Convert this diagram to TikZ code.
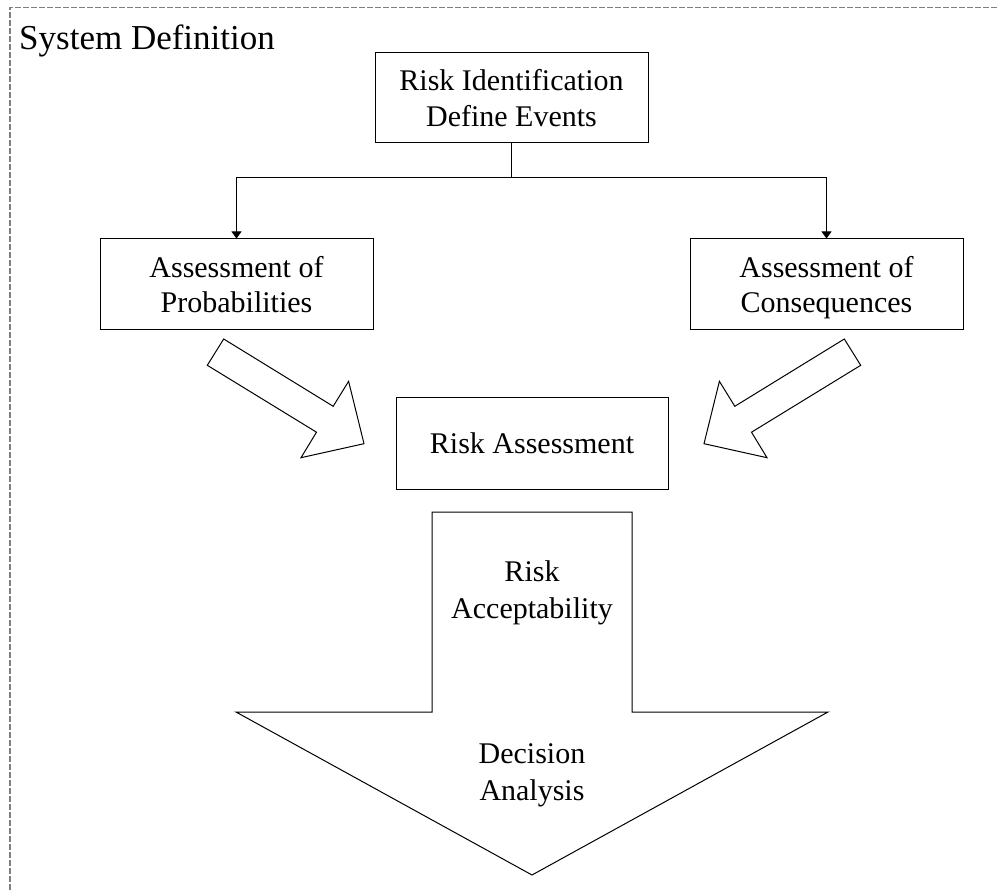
\documentclass[tikz,border=0pt]{standalone}
\usepackage{fontspec}
\setmainfont{Liberation Serif}
\usetikzlibrary{arrows.meta}
\begin{document}
\begin{tikzpicture}[x=1pt,y=-1pt,
  procbox/.style={draw=black,line width=1pt,minimum width=273pt,minimum height=91pt,
    inner sep=0pt,align=center,font=\fontsize{30}{35.5}\selectfont},
  arrowtext/.style={inner sep=0pt,align=center,font=\fontsize{30}{37}\selectfont},
  link/.style={draw=black,line width=1pt},
  linktip/.style={-{Triangle[width=10pt,length=7pt]}},
  blockarrow/.style={draw=black,line width=1pt,line join=miter,fill=white},
  outerframe/.style={draw=black!50,line width=1.2pt,dash pattern=on 6pt off 2pt}]
\useasboundingbox (0,0) rectangle (999,890);

% system boundary
\draw[outerframe] (10,890) -- (10,7.3) -- (999,7.3);
\node[anchor=base west,inner sep=0pt,font=\fontsize{35}{40}\selectfont] (sysdef) at (19,50) {System Definition};

% process boxes
\node[procbox,minimum height=90pt] (rid) at (511.5,98) {Risk Identification\\Define Events};
\node[procbox] (prob) at (236.5,284.5) {Assessment of\\Probabilities};
\node[procbox] (cons) at (826.5,284.5) {Assessment of\\\raisebox{0pt}[\height][0pt]{Consequences}};
\node[procbox,minimum width=272pt] (ra) at (532,443.5) {Risk Assessment};

% branching connectors
\coordinate (split) at (rid.south |- 0,178);
\draw[link] (rid.south) -- (split);
\draw[link,linktip] (split) -| (prob.north);
\draw[link,linktip] (split) -| (cons.north);

% block arrows into the risk assessment
\draw[blockarrow] (223.7,339) -- (333.2,406.3) -- (348.6,381.3) -- (364,443.7)
  -- (301,457.7) -- (316.5,432.2) -- (207.3,365.3) -- cycle;
\draw[blockarrow] (844.3,339) -- (734.8,406.3) -- (719.4,381.3) -- (704,443.7)
  -- (767,457.7) -- (751.5,432.2) -- (860.7,365.3) -- cycle;

% large downward arrow
\draw[blockarrow] (432,512) -- (632,512) -- (632,712) -- (828,712) -- (532,875)
  -- (236,712) -- (432,712) -- cycle;
\node[arrowtext] (accept) at (532,593) {Risk\\Acceptability};
\node[arrowtext] (decide) at (532,775) {Decision\\Analysis};
\end{tikzpicture}
\end{document}
